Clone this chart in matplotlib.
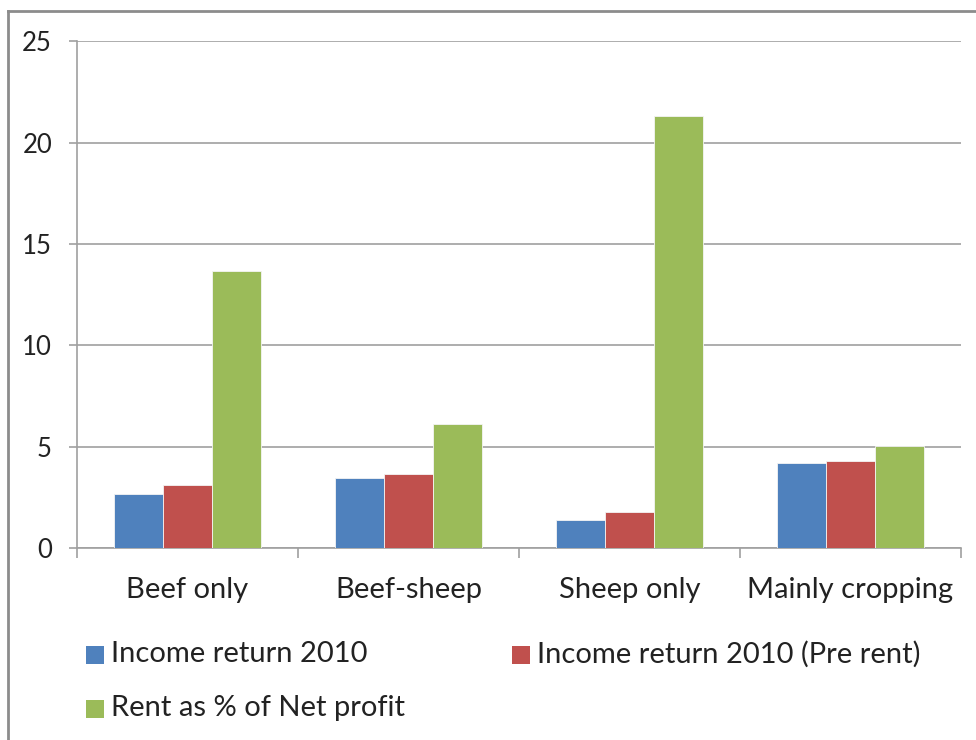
import matplotlib
matplotlib.use("Agg")
import matplotlib.pyplot as plt
from matplotlib.patches import Rectangle
from matplotlib.lines import Line2D
import numpy as np

categories = ["Beef only", "Beef-sheep", "Sheep only", "Mainly cropping"]
income_return = [2.65, 3.47, 1.38, 4.18]
income_pre_rent = [3.09, 3.67, 1.76, 4.31]
rent_pct_profit = [13.65, 6.13, 21.31, 5.05]
series_names = ["Income return 2010", "Income return 2010 (Pre rent)", "Rent as % of Net profit"]
colors = ["#4F81BD", "#C0504D", "#9BBB59"]
yticks = [0, 5, 10, 15, 20, 25]

plt.rcParams['font.family'] = ['Lato', 'DejaVu Sans']
W, H = 976, 740
fig = plt.figure(figsize=(W / 100, H / 100), dpi=100)

ax = fig.add_axes([77 / W, 1 - 548 / H, (961 - 77) / W, (548 - 41.3) / H])

x = np.arange(len(categories))
bw = 0.667 / 3
for i, vals in enumerate([income_return, income_pre_rent, rent_pct_profit]):
    ax.bar(x + (i - 1) * bw, vals, width=bw, color=colors[i],
           edgecolor="#f4f4f4", linewidth=0.6, zorder=3)

ax.set_xlim(-0.5, len(categories) - 0.5)
ax.set_ylim(0, 25)
ax.set_yticks(yticks)
ax.set_yticklabels([str(t) for t in yticks], fontsize=18.5, color="#222222")
ax.yaxis.grid(True, color="#a0a0a0", linewidth=1.2, zorder=0)
ax.tick_params(axis="y", length=6, width=1.2, color="#a0a0a0", pad=12)

ax.set_xticks(x)
ax.set_xticklabels(categories, fontsize=21, color="#222222")
ax.set_xticks(np.arange(len(categories) + 1) - 0.5, minor=True)
ax.tick_params(axis="x", which="major", length=0, pad=21)
ax.tick_params(axis="x", which="minor", length=7, width=1.2, color="#a0a0a0")

for s in ["top", "right"]:
    ax.spines[s].set_visible(False)
for s in ["left", "bottom"]:
    ax.spines[s].set_color("#a0a0a0")
    ax.spines[s].set_linewidth(1.2)

# legend drawn by hand in figure pixels
legend_pos = [(86, 655), (512, 655), (86, 709)]
for (lx, ly), name, c in zip(legend_pos, series_names, colors):
    fig.patches.append(Rectangle((lx / W, 1 - (ly + 9) / H), 18 / W, 18 / H,
                                 transform=fig.transFigure, facecolor=c,
                                 edgecolor="none"))
    fig.text((lx + 25) / W, 1 - (ly - 1) / H, name, fontsize=21, color="#222222",
             va="center", ha="left")

# outer chart border (top and left visible)
fig.add_artist(Line2D([8 / W, 1], [1 - 11 / H, 1 - 11 / H], transform=fig.transFigure,
                      color="#8c8c8c", linewidth=2))
fig.add_artist(Line2D([8 / W, 8 / W], [0, 1 - 11 / H], transform=fig.transFigure,
                      color="#8c8c8c", linewidth=2))

fig.savefig("out.png", dpi=100)
